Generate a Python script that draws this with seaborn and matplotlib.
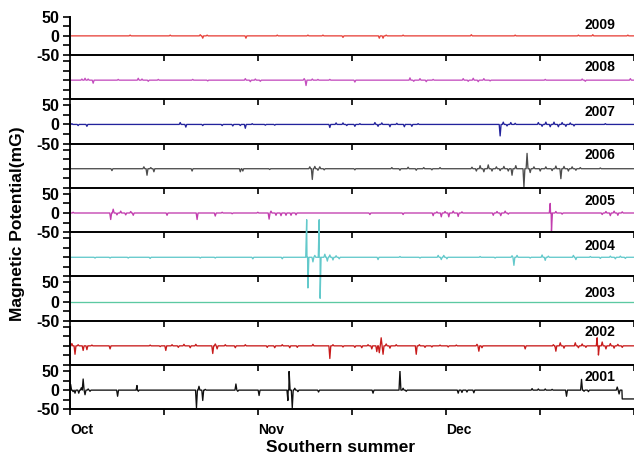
import numpy as np
import pandas as pd
import seaborn as sns
import matplotlib.pyplot as plt

# years, top panel first
YEARS = [2009, 2008, 2007, 2006, 2005, 2004, 2003, 2002, 2001]
YEAR_COLORS = ['#e8433b', '#c44fbf', '#23239c', '#4d4d4d', '#c23dae',
               '#63c9cb', '#5cc9a2', '#c81c1c', '#101010']

# spikes: day since 1 Oct, value in mG
spike_days_2009 = [9.6, 16.0, 20.8, 21.2, 21.9, 28.1, 33.1, 38.0, 40.4, 43.6, 49.4, 50.0, 50.5,
                   53.2, 64.1, 71.1, 81.2, 83.5, 89.1]
spike_vals_2009 = [2, 2, 3, -6, 2, -6, 2, 2, 2, -4, -6, -6, 2, 2, 3, 2, 2, 3, 2]

spike_days_2008 = [1.9, 2.4, 2.9, 3.7, 7.7, 10.9, 11.5, 12.5, 14.1, 19.6, 22.0, 28.0, 28.8, 29.6,
                   30.4, 37.4, 37.7, 38.7, 39.6, 41.5, 45.5, 54.3, 54.9, 55.9, 56.9, 58.0, 62.8,
                   63.6, 64.4, 65.2, 66.1, 67.1, 75.9, 81.8, 82.3, 89.5]
spike_vals_2008 = [3, 5, 3, -8, 2, 5, 3, -3, 2, 2, -2, 4, -4, 3, -3, 4, -14, 3, 2, 2, -5, 6, -3,
                   4, -4, 2, 4, -3, 5, -4, 4, -2, 2, 3, -3, 4]

spike_days_2007 = [0.3, 1.3, 2.7, 17.6, 18.5, 21.2, 24.3, 26.0, 27.2, 28.0, 29.1, 31.2, 32.7,
                   41.5, 42.5, 43.6, 44.2, 45.5, 46.3, 48.7, 49.2, 49.8, 51.1, 52.2, 53.4, 54.6,
                   55.6, 68.7, 69.2, 69.8, 70.4, 71.1, 74.8, 75.4, 76.0, 76.7, 77.3, 78.0, 78.6,
                   79.2, 79.9, 80.5, 85.5]
spike_vals_2007 = [2, -3, -5, 5, -7, -3, -3, -4, -3, -10, 2, -2, -2, -8, 4, 4, -3, -5, 2, 5, -5,
                   4, -6, 3, -6, -5, 2, -30, 6, -4, 5, 3, 5, -5, 6, -6, 6, -6, 5, -5, 4, -4, 2]

spike_days_2006 = [6.7, 11.8, 12.3, 12.9, 13.4, 19.5, 27.2, 27.6, 31.9, 38.3, 38.7, 39.1, 39.6,
                   39.9, 40.6, 45.5, 51.4, 52.7, 54.0, 55.3, 56.5, 57.8, 59.1, 64.2, 64.9, 65.5,
                   66.1, 66.8, 67.4, 68.1, 68.7, 69.3, 70.0, 70.6, 71.2, 72.5, 73.0, 73.5, 74.1,
                   75.1, 76.0, 77.0, 77.6, 78.4, 78.9, 79.6, 80.2, 80.8, 81.5, 84.7]
spike_vals_2006 = [-5, 5, -17, 3, -8, -6, -8, -6, -2, 5, -28, 6, -4, 5, -3, -3, 3, -4, 4, -4, 3,
                   -3, 3, 4, -6, 8, -8, 10, -6, 5, -5, 6, -6, -17, 8, -48, 40, -10, 5, -6, 5, -5,
                   7, -26, 6, -6, 5, -4, 3, 2]

spike_days_2005 = [0.5, 6.5, 6.9, 7.5, 8.1, 8.9, 9.7, 10.1, 15.5, 20.3, 23.2, 24.3, 25.9, 30.0,
                   31.8, 32.1, 32.9, 33.7, 34.5, 35.3, 36.1, 47.9, 53.2, 58.0, 58.6, 59.3, 59.9,
                   60.5, 61.2, 62.0, 62.6, 67.6, 68.2, 68.8, 69.5, 70.0, 76.7, 76.9, 77.6, 78.6,
                   85.0, 85.6, 86.3, 86.9, 87.5, 88.2]
spike_vals_2005 = [2, -17, 10, -5, 5, -5, 4, -6, -6, -17, -8, 2, -2, 2, -16, 5, -6, -7, -6, -6,
                   -5, -4, -4, -7, 3, -10, 4, -10, 5, -9, 3, -6, 4, -7, 5, -3, 25, -47, 4, -3,
                   -4, 4, -7, 5, -6, 3]

spike_days_2004 = [4.0, 6.4, 9.3, 12.8, 20.8, 23.2, 29.2, 33.9, 37.8, 38.0, 38.8, 39.1, 39.8,
                   39.95, 40.7, 41.1, 41.5, 42.0, 42.5, 43.0, 49.2, 52.7, 55.9, 58.8, 59.3, 59.7,
                   60.2, 65.5, 67.9, 70.6, 70.9, 71.4, 73.5, 75.4, 75.9, 76.4, 80.4, 80.8, 83.1,
                   84.7, 86.3, 87.1, 87.9, 88.7]
spike_vals_2004 = [-2, -2, -2, -3, -2, -2, -4, -4, 98, -80, -12, 5, 98, -107, 8, -10, 6, -7, 4,
                   -4, -6, 2, -2, 5, -6, 5, -4, 2, -2, 4, -21, 5, -2, 6, -8, 3, 5, -6, 2, -3, 3,
                   -4, 3, -3]

spike_days_2003 = []
spike_vals_2003 = []

spike_days_2002 = [0.3, 0.8, 1.3, 2.1, 2.7, 3.5, 6.4, 12.8, 14.4, 15.3, 16.3, 17.3, 18.2, 19.2,
                   20.1, 22.8, 23.2, 23.5, 24.8, 26.4, 28.0, 31.5, 32.7, 33.9, 35.1, 36.3, 38.8,
                   41.5, 42.0, 43.6, 45.5, 46.6, 47.6, 48.2, 49.0, 49.4, 49.7, 50.0, 50.5, 51.1,
                   52.1, 55.3, 55.8, 56.7, 57.8, 59.1, 60.4, 61.7, 65.0, 65.3, 65.8, 72.7, 77.2,
                   77.6, 78.3, 78.9, 80.7, 81.2, 81.8, 82.4, 84.2, 84.4, 85.0, 85.6, 86.3, 86.9,
                   87.5, 88.2]
spike_vals_2002 = [6, -22, 3, -12, -10, 2, -8, 2, -2, -12, 3, -4, 4, -5, 4, -20, 5, -8, 3, -5,
                   3, -4, -5, 3, -5, -4, 4, -33, 3, -3, -4, -5, 3, -8, -15, -18, 21, -22, 5, -6,
                   3, -22, 3, -4, -3, 2, -3, 2, 4, -14, -5, -8, 3, -14, 8, -6, 8, -5, 5, -4, 21,
                   -24, 10, -8, 6, -6, 4, -4]

spike_days_2001 = [0.1, 0.5, 0.8, 1.4, 1.8, 2.1, 2.4, 2.9, 3.2, 7.6, 10.7, 10.9, 20.2, 20.6,
                   21.2, 21.6, 26.5, 26.8, 30.2, 34.8, 35.0, 35.5, 35.9, 36.4, 39.7, 48.4, 52.7,
                   53.2, 53.7, 62.0, 62.6, 63.4, 64.5, 73.8, 74.8, 75.9, 77.0, 79.3, 81.7, 82.1,
                   82.8, 87.4, 87.7]
spike_vals_2001 = [15, -4, -8, -8, 6, 29, -12, 3, -3, -16, 12, -3, -46, 10, -27, 2, 16, -3, -14,
                   -27, 49, -46, 5, -4, -5, -8, 51, 5, -3, -8, -6, -5, -7, 4, 3, 3, 2, -16, 28,
                   -3, -4, 8, -10]
# baseline drops at the very end of 2001
shift_day_2001 = 88.2
shift_level_2001 = -23

SPIKES = {
    2009: (spike_days_2009, spike_vals_2009),
    2008: (spike_days_2008, spike_vals_2008),
    2007: (spike_days_2007, spike_vals_2007),
    2006: (spike_days_2006, spike_vals_2006),
    2005: (spike_days_2005, spike_vals_2005),
    2004: (spike_days_2004, spike_vals_2004),
    2003: (spike_days_2003, spike_vals_2003),
    2002: (spike_days_2002, spike_vals_2002),
    2001: (spike_days_2001, spike_vals_2001),
}

# text placement of the year tags (axes fraction)
LABEL_Y = [0.79, 0.85, 0.83, 0.86, 0.81, 0.80, 0.72, 0.85, 0.85]


def build_trace(days, vals, shift_day=None, shift_level=0.0, hw=0.15):
    def base(d):
        return shift_level if (shift_day is not None and d >= shift_day) else 0.0
    pts = [(0.0, 0.0)]
    for d, v in zip(days, vals):
        pts += [(d - hw, base(d)), (d, v), (d + hw, base(d))]
    if shift_day is not None:
        pts += [(shift_day - 0.05, 0.0), (shift_day, shift_level)]
    pts.append((90.0, base(90.0)))
    pts.sort(key=lambda p: p[0])
    return pd.DataFrame(pts, columns=['day', 'value'])


plt.rcParams['font.family'] = ['Liberation Sans', 'DejaVu Sans']
plt.rcParams['font.weight'] = 'bold'

fig, axes = plt.subplots(len(YEARS), 1, figsize=(6.34, 4.59), dpi=100, sharex=True)
fig.subplots_adjust(left=70 / 634, right=633.5 / 634, top=1 - 16.7 / 459,
                    bottom=1 - 409.3 / 459, hspace=0.155)

for i, (year, color, ax) in enumerate(zip(YEARS, YEAR_COLORS, axes)):
    days, vals = SPIKES[year]
    if year == 2001:
        df = build_trace(days, vals, shift_day_2001, shift_level_2001)
    else:
        df = build_trace(days, vals)
    sns.lineplot(data=df, x='day', y='value', color=color, linewidth=0.95,
                 estimator=None, sort=False, ax=ax)
    if year == 2004:
        ax.lines[-1].set_clip_on(False)
        ax.set_zorder(5)
    ax.patch.set_alpha(0)
    ax.set_xlim(0, 90)
    ax.set_ylim(-50, 50)
    ax.set_yticks([-50, -25, 0, 25, 50])
    if i % 2 == 0:
        ax.set_yticklabels(['-50', '', '0', '', '50'])
    else:
        ax.set_yticklabels([])
    ax.set_xticks([0, 15, 30, 45, 60, 75, 90])
    ax.set_xlabel('')
    ax.set_ylabel('')
    for side in ['top', 'right']:
        ax.spines[side].set_visible(False)
    for side in ['left', 'bottom']:
        ax.spines[side].set_linewidth(1.4)
    ax.tick_params(axis='y', direction='out', length=5, width=1.2, pad=2.5, labelsize=11.5)
    ax.tick_params(axis='x', direction='out', length=4, width=1.2, pad=6, labelsize=10,
                   labelbottom=(i == len(YEARS) - 1))
    ax.text(0.94, LABEL_Y[i], str(year), transform=ax.transAxes, ha='center', va='center',
            fontsize=10, fontweight='bold')

axes[-1].set_xticklabels(['Oct', '', 'Nov', '', 'Dec', '', ''])
for lab in axes[-1].get_xticklabels():
    lab.set_horizontalalignment('left')

fig.text(0.027, 0.513, 'Magnetic Potential(mG)', rotation=90, ha='center', va='center',
         fontsize=12.5, fontweight='bold')
fig.text(341 / 634, 1 - 448 / 459, 'Southern summer', ha='center', va='center',
         fontsize=12.5, fontweight='bold')

fig.savefig('out.png', dpi=100, facecolor='white')
